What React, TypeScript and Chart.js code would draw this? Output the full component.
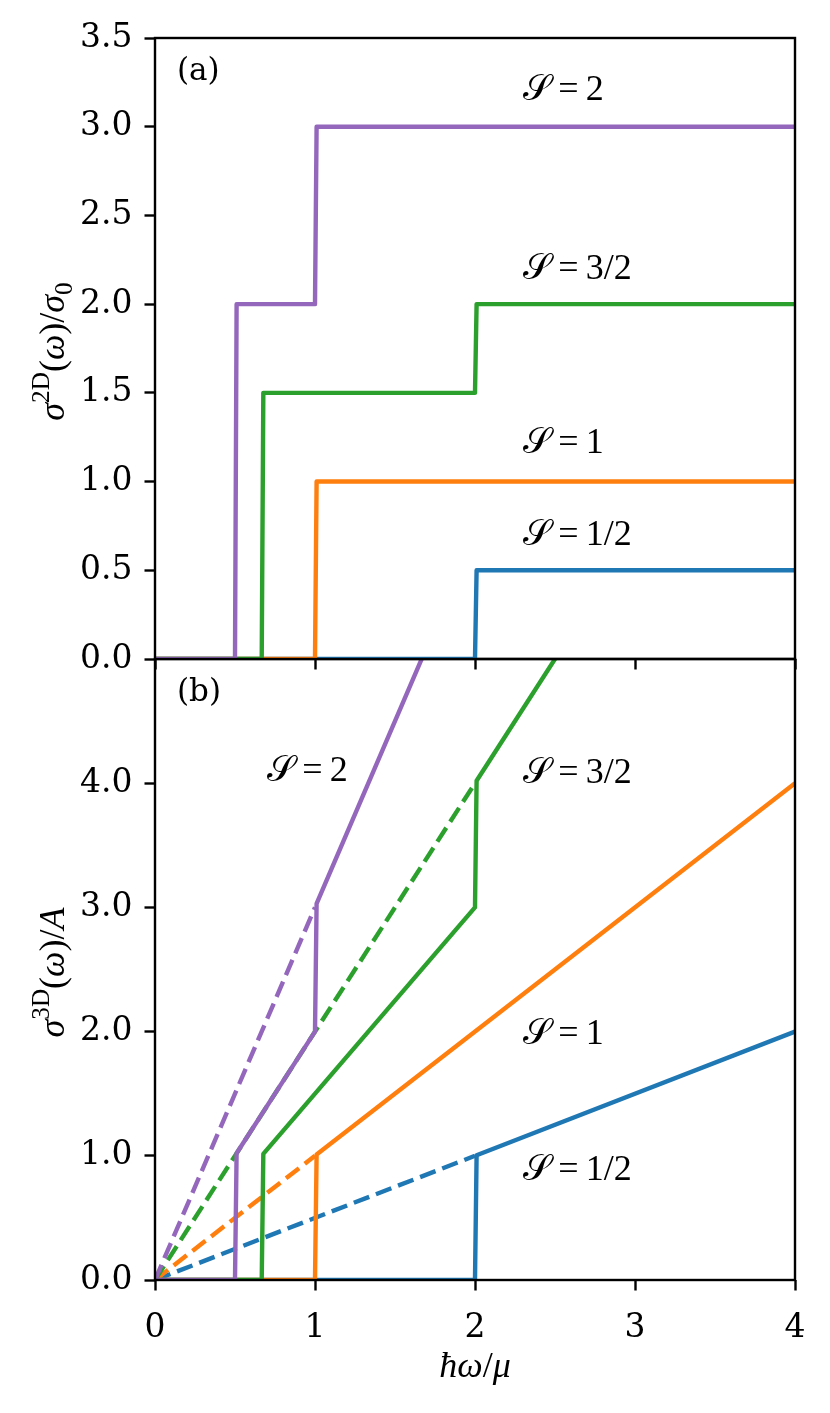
import React, { useEffect, useRef } from "react";
import { Chart, registerables } from "chart.js";

Chart.register(...registerables);

// ---------------- data ----------------
const xTickValues = [0, 1, 2, 3, 4];
const yTickValuesA = [0, 0.5, 1, 1.5, 2, 2.5, 3, 3.5];
const yTickValuesB = [0, 1, 2, 3, 4];

// panel (a): sigma^2D(omega)/sigma_0
const aHalfX = [0, 2, 2.01, 4];
const aHalfY = [0, 0, 0.5, 0.5];
const aOneX = [0, 1, 1.01, 4];
const aOneY = [0, 0, 1, 1];
const aThreeHalvesX = [0, 0.667, 0.677, 2, 2.01, 4];
const aThreeHalvesY = [0, 0, 1.5, 1.5, 2, 2];
const aTwoX = [0, 0.5, 0.51, 1, 1.01, 4];
const aTwoY = [0, 0, 2, 2, 3, 3];

// panel (b): sigma^3D(omega)/A
const bHalfX = [0, 2, 2.01, 4];
const bHalfY = [0, 0, 1.005, 2];
const bHalfDashX = [0, 2];
const bHalfDashY = [0, 1];
const bOneX = [0, 1, 1.01, 4];
const bOneY = [0, 0, 1.01, 4];
const bOneDashX = [0, 1];
const bOneDashY = [0, 1];
const bThreeHalvesX = [0, 0.667, 0.677, 2, 2.01, 4];
const bThreeHalvesY = [0, 0, 1.015, 3, 4.02, 8];
const bThreeHalvesDashX = [0, 2];
const bThreeHalvesDashY = [0, 4];
const bTwoX = [0, 0.5, 0.51, 1, 1.01, 4];
const bTwoY = [0, 0, 1.02, 2, 3.03, 12];
const bTwoDashX = [0, 1];
const bTwoDashY = [0, 3];

const spinLabels = ["1/2", "1", "3/2", "2"];
const annotXA = [2.3, 2.3, 2.3, 2.3];
const annotYA = [0.71, 1.23, 2.21, 3.22];
const annotXB = [2.3, 2.3, 2.3, 0.7];
const annotYB = [0.9, 2.0, 4.1, 4.12];

// ---------------- styles ----------------
const C_HALF = "#1f77b4";
const C_ONE = "#ff7f0e";
const C_THREE = "#2ca02c";
const C_TWO = "#9467bd";
const TICK_FONT = "'DejaVu Serif', serif";
const MATH = "'Liberation Serif', 'DejaVu Serif', serif";
const CAL = "'DejaVu Serif', 'DejaVu Sans', 'Noto Sans', serif";
const FS = 33;
const MFS = 36;
const LETTER_FS = 31;
const LW = 4.4;
const AXW = 2.4;
const TICKLEN = 10.5;

type Seg = { t: string; it?: boolean; sup?: boolean; sub?: boolean; fam?: string };

function drawRich(
  ctx: CanvasRenderingContext2D,
  segs: Seg[],
  x: number,
  y: number,
  size: number,
  align: "left" | "center",
  rotate = false
) {
  ctx.save();
  ctx.translate(x, y);
  if (rotate) ctx.rotate(-Math.PI / 2);
  const items = segs.map((s) => {
    const fs = s.sup || s.sub ? size * 0.7 : size;
    const font = `${s.it ? "italic " : ""}${fs}px ${s.fam || MATH}`;
    ctx.font = font;
    const w = ctx.measureText(s.t).width;
    const dy = s.sup ? -size * 0.42 : s.sub ? size * 0.22 : 0;
    return { t: s.t, font, w, dy };
  });
  const total = items.reduce((a, b) => a + b.w, 0);
  let cx = align === "center" ? -total / 2 : 0;
  ctx.textBaseline = "alphabetic";
  ctx.textAlign = "left";
  ctx.fillStyle = "#000";
  const base = size * 0.34;
  for (const it of items) {
    ctx.font = it.font;
    ctx.fillText(it.t, cx, base + it.dy);
    cx += it.w;
  }
  ctx.restore();
}

function spinSegs(label: string): Seg[] {
  return [
    { t: "𝒮", fam: CAL },
    { t: "\u2009=\u2009" },
    { t: label },
  ];
}

function series(xs: number[], ys: number[], color: string, order: number, dashed = false) {
  return {
    data: xs.map((x, i) => ({ x, y: ys[i] })),
    borderColor: color,
    backgroundColor: color,
    borderWidth: LW,
    borderDash: dashed ? [16.5, 7.2] : [],
    borderCapStyle: "butt" as const,
    borderJoinStyle: "round" as const,
    pointRadius: 0,
    pointHoverRadius: 0,
    fill: false,
    tension: 0,
    clip: 0,
    order,
  };
}

type Deco = {
  letter: string;
  letterX: number;
  letterY: number;
  annX: number[];
  annY: number[];
  ylabel: Seg[];
  xlabel?: Seg[];
};

function makeDeco(d: Deco) {
  return {
    id: "deco",
    afterDatasetsDraw(chart: any) {
      const ctx: CanvasRenderingContext2D = chart.ctx;
      const { left, right, top, bottom } = chart.chartArea;
      const xs = chart.scales.x;
      const ys = chart.scales.y;
      // frame
      ctx.save();
      ctx.strokeStyle = "#000";
      ctx.lineWidth = AXW;
      ctx.strokeRect(left, top, right - left, bottom - top);
      ctx.restore();
      // panel letter
      ctx.save();
      ctx.font = `${LETTER_FS}px ${TICK_FONT}`;
      ctx.fillStyle = "#000";
      ctx.textAlign = "left";
      ctx.textBaseline = "middle";
      ctx.fillText(d.letter, xs.getPixelForValue(d.letterX), ys.getPixelForValue(d.letterY));
      ctx.restore();
      // spin annotations
      spinLabels.forEach((lab, i) => {
        drawRich(ctx, spinSegs(lab), xs.getPixelForValue(d.annX[i]), ys.getPixelForValue(d.annY[i]), MFS, "left");
      });
      // y label
      drawRich(ctx, d.ylabel, 52, (top + bottom) / 2 + 3, MFS, "center", true);
      if (d.xlabel) {
        drawRich(ctx, d.xlabel, (left + right) / 2, 1365, MFS, "center");
      }
    },
  };
}

function axisX(showLabels: boolean, height: number) {
  return {
    type: "linear" as const,
    position: "bottom" as const,
    min: 0,
    max: 4,
    afterBuildTicks: (s: any) => {
      s.ticks = xTickValues.map((v) => ({ value: v }));
    },
    afterFit: (s: any) => {
      s.height = height;
    },
    ticks: {
      display: showLabels,
      color: "#000",
      font: { family: TICK_FONT, size: FS },
      padding: 18,
      maxRotation: 0,
      callback: (v: any) => String(v),
    },
    grid: {
      display: true,
      drawOnChartArea: false,
      drawTicks: true,
      tickLength: TICKLEN,
      tickWidth: AXW,
      tickColor: "#000",
      color: "#000",
    },
    border: { display: false },
  };
}

function axisY(min: number, max: number, ticks: number[]) {
  return {
    type: "linear" as const,
    position: "left" as const,
    min,
    max,
    afterBuildTicks: (s: any) => {
      s.ticks = ticks.map((v) => ({ value: v }));
    },
    afterFit: (s: any) => {
      s.width = 155;
    },
    ticks: {
      color: "#000",
      font: { family: TICK_FONT, size: FS },
      padding: 12,
      callback: (v: any) => Number(v).toFixed(1),
    },
    grid: {
      display: true,
      drawOnChartArea: false,
      drawTicks: true,
      tickLength: TICKLEN,
      tickWidth: AXW,
      tickColor: "#000",
      color: "#000",
    },
    border: { display: false },
  };
}

export default function App() {
  const refA = useRef<HTMLCanvasElement | null>(null);
  const refB = useRef<HTMLCanvasElement | null>(null);

  useEffect(() => {
    const common = {
      responsive: false,
      animation: false as const,
      devicePixelRatio: 1,
      events: [] as any[],
      plugins: { legend: { display: false }, tooltip: { enabled: false } },
    };

    const chartA = new Chart(refA.current!, {
      type: "line",
      data: {
        datasets: [
          series(aHalfX, aHalfY, C_HALF, 3),
          series(aOneX, aOneY, C_ONE, 2),
          series(aThreeHalvesX, aThreeHalvesY, C_THREE, 1),
          series(aTwoX, aTwoY, C_TWO, 0),
        ] as any,
      },
      options: {
        ...common,
        layout: { padding: { top: 38, right: 35, left: 0, bottom: 0 } },
        scales: {
          x: axisX(false, 700 - 659),
          y: axisY(0, 3.5, yTickValuesA),
        },
      } as any,
      plugins: [
        makeDeco({
          letter: "(a)",
          letterX: 0.1375,
          letterY: 3.31,
          annX: annotXA,
          annY: annotYA,
          ylabel: [
            { t: "σ", it: true },
            { t: "2D", sup: true },
            { t: "(" },
            { t: "ω", it: true },
            { t: ")/" },
            { t: "σ", it: true },
            { t: "0", sub: true },
          ],
        }),
      ],
    });

    const chartB = new Chart(refB.current!, {
      type: "line",
      data: {
        datasets: [
          series(bHalfX, bHalfY, C_HALF, 7),
          series(bHalfDashX, bHalfDashY, C_HALF, 6, true),
          series(bOneX, bOneY, C_ONE, 5),
          series(bOneDashX, bOneDashY, C_ONE, 4, true),
          series(bThreeHalvesX, bThreeHalvesY, C_THREE, 3),
          series(bThreeHalvesDashX, bThreeHalvesDashY, C_THREE, 2, true),
          series(bTwoX, bTwoY, C_TWO, 1),
          series(bTwoDashX, bTwoDashY, C_TWO, 0, true),
        ] as any,
      },
      options: {
        ...common,
        layout: { padding: { top: 659, right: 35, left: 0, bottom: 0 } },
        scales: {
          x: axisX(true, 1413 - 1280),
          y: axisY(0, 5, yTickValuesB),
        },
      } as any,
      plugins: [
        makeDeco({
          letter: "(b)",
          letterX: 0.1375,
          letterY: 4.73,
          annX: annotXB,
          annY: annotYB,
          ylabel: [
            { t: "σ", it: true },
            { t: "3D", sup: true },
            { t: "(" },
            { t: "ω", it: true },
            { t: ")/" },
            { t: "A", it: true },
          ],
          xlabel: [
            { t: "ħω", it: true },
            { t: "/" },
            { t: "μ", it: true },
          ],
        }),
      ],
    });

    return () => {
      chartA.destroy();
      chartB.destroy();
    };
  }, []);

  return (
    <div
      style={{
        position: "absolute",
        left: 0,
        top: 0,
        width: 830,
        height: 1413,
        background: "#fff",
        overflow: "hidden",
      }}
    >
      <canvas
        ref={refB}
        width={830}
        height={1413}
        style={{ position: "absolute", left: 0, top: 0, width: 830, height: 1413 }}
      />
      <canvas
        ref={refA}
        width={830}
        height={700}
        style={{ position: "absolute", left: 0, top: 0, width: 830, height: 700 }}
      />
    </div>
  );
}
